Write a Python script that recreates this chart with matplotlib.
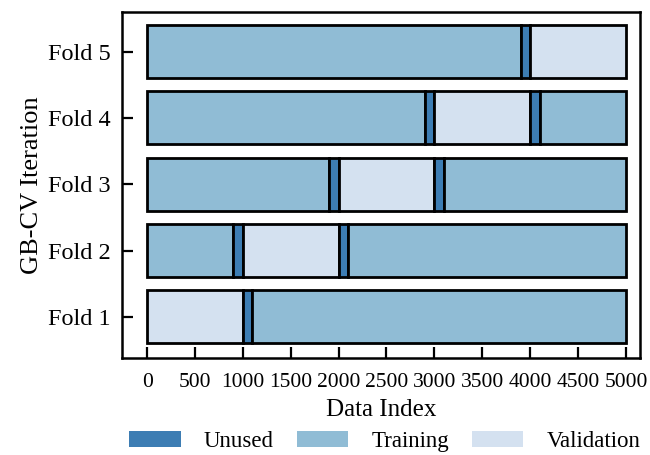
import matplotlib
matplotlib.use("Agg")
import matplotlib.pyplot as plt
from matplotlib.patches import Patch

plt.rcParams['font.family'] = ['Liberation Serif', 'DejaVu Serif']

folds = ['Fold 1', 'Fold 2', 'Fold 3', 'Fold 4', 'Fold 5']
# segment boundaries along the data index, per fold
fold_edges = [
    [0, 1000, 1100, 5000],
    [0, 900, 1000, 2000, 2100, 5000],
    [0, 1900, 2000, 3000, 3100, 5000],
    [0, 2900, 3000, 4000, 4100, 5000],
    [0, 3900, 4000, 5000],
]
fold_kinds = [
    ['Validation', 'Unused', 'Training'],
    ['Training', 'Unused', 'Validation', 'Unused', 'Training'],
    ['Training', 'Unused', 'Validation', 'Unused', 'Training'],
    ['Training', 'Unused', 'Validation', 'Unused', 'Training'],
    ['Training', 'Unused', 'Validation'],
]
xticks = [0, 500, 1000, 1500, 2000, 2500, 3000, 3500, 4000, 4500, 5000]

colors = {'Unused': '#3d7db3', 'Training': '#90bcd5', 'Validation': '#d4e1f0'}

fig = plt.figure(figsize=(6.5, 4.55), dpi=100)
ax = fig.add_axes([0.188, 0.213, 0.797, 0.761])

for i, (edges, kinds) in enumerate(zip(fold_edges, fold_kinds)):
    for k, kind in enumerate(kinds):
        ax.barh(i, edges[k + 1] - edges[k], left=edges[k], height=0.8,
                color=colors[kind], edgecolor='black', linewidth=2)

ax.set_xlim(-260, 5150)
ax.set_ylim(-0.62, 4.6)
ax.set_yticks(range(len(folds)))
ax.set_yticklabels(folds)
ax.set_xticks(xticks)
ax.tick_params(direction='in', length=8, width=1.6, pad=8)
ax.tick_params(axis='y', labelsize=17.5)
ax.tick_params(axis='x', labelsize=15.5, pad=11)
for s in ax.spines.values():
    s.set_linewidth(1.8)

ax.set_xlabel('Data Index', fontsize=18, labelpad=5)
ax.set_ylabel('GB-CV Iteration', fontsize=19, labelpad=4)

handles = [Patch(facecolor=colors[k], label=k) for k in ['Unused', 'Training', 'Validation']]
fig.legend(handles=handles, loc='center', bbox_to_anchor=(0.592, 0.03), ncol=3,
           frameon=False, fontsize=16.5, handlelength=2.25, handleheight=0.7,
           columnspacing=1.0, handletextpad=1.0)

fig.savefig('out.png', dpi=100)
